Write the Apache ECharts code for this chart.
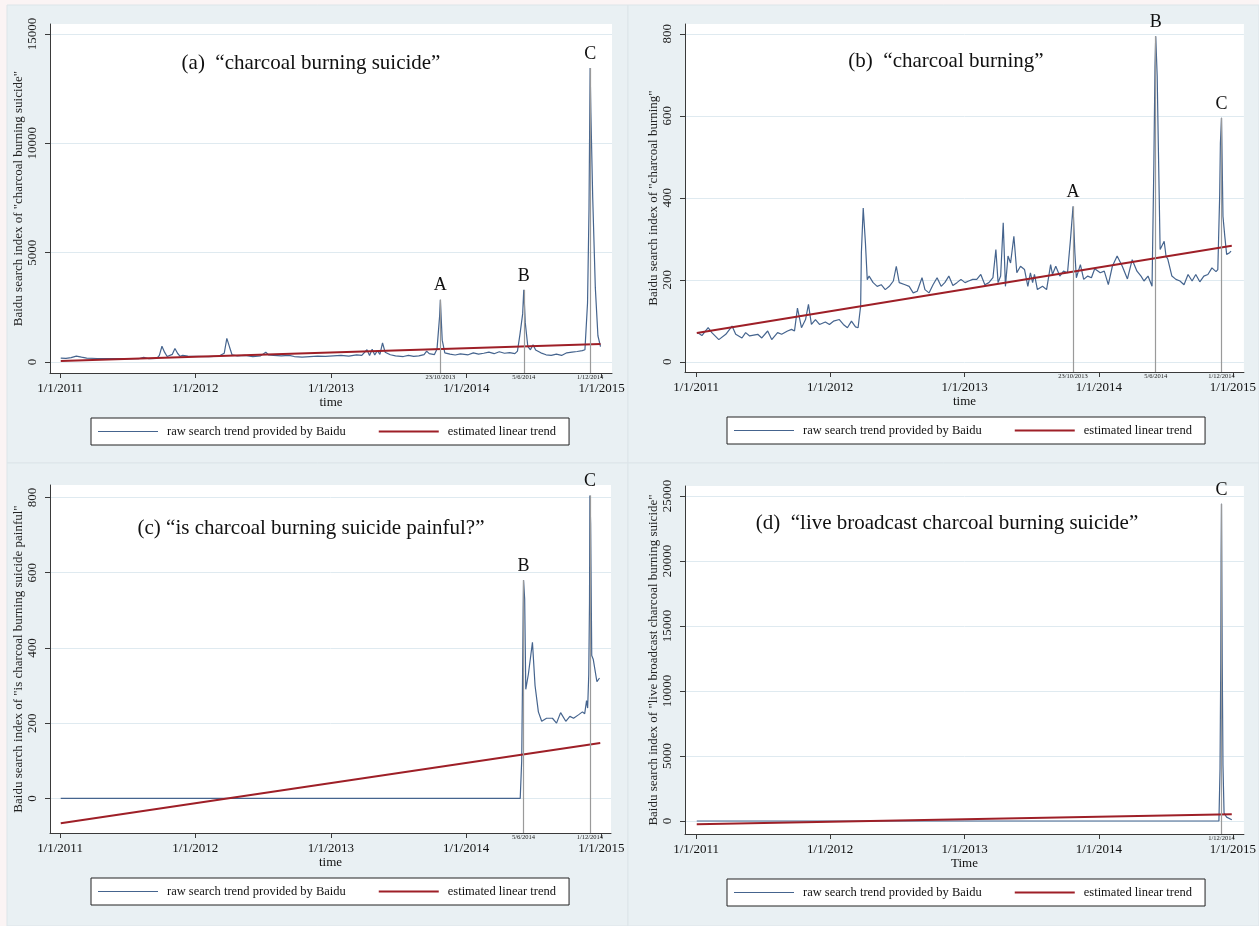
<!DOCTYPE html>
<html><head><meta charset="utf-8">
<script src="https://cdn.jsdelivr.net/npm/echarts@6/dist/echarts.min.js"></script>
<style>html,body{margin:0;padding:0;background:#fbf4f4;} #c{width:1259px;height:926px;}</style>
</head><body><div id="c"></div>
<script>
const FONT = '"Liberation Serif", "Times New Roman", serif';

// ---------- data ----------
const yearTicks = ['2011-01-01','2012-01-01','2013-01-01','2014-01-01','2015-01-01'];
const eventDates = ['2013-10-23','2014-06-05','2014-12-01'];
const eventLabels = ['23/10/2013','5/6/2014','1/12/2014'];
const eventLetters = ['A','B','C'];
const seriesNames = ['raw search trend provided by Baidu','estimated linear trend'];
const titles = ['(a)  \u201Ccharcoal burning suicide\u201D','(b)  \u201Ccharcoal burning\u201D',
  '(c) \u201Cis charcoal burning suicide painful?\u201D','(d)  \u201Clive broadcast charcoal burning suicide\u201D'];
const yNames = ['Baidu search index of "charcoal burning suicide"','Baidu search index of "charcoal burning"',
  'Baidu search index of "is charcoal burning suicide painful"','Baidu search index of "live broadcast charcoal burning suicide"'];
const xNames = ['time','time','time','Time'];

const yTicksA = [0,5000,10000,15000];
const yTicksB = [0,200,400,600,800];
const yTicksC = [0,200,400,600,800];
const yTicksD = [0,5000,10000,15000,20000,25000];

const eventsA = [0,1,2];
const eventsB = [0,1,2];
const eventsC = [1,2];
const eventsD = [2];

const rawA = [
['2011-01-03',180],['2011-01-17',170],['2011-01-31',200],['2011-02-14',270],['2011-02-28',220],['2011-03-14',180],
['2011-04-11',160],['2011-05-09',150],['2011-06-06',150],['2011-07-04',160],['2011-08-01',150],['2011-08-15',210],
['2011-08-29',150],['2011-09-19',170],['2011-09-26',300],['2011-10-03',720],['2011-10-10',450],['2011-10-17',250],
['2011-10-31',350],['2011-11-07',620],['2011-11-14',400],['2011-11-21',260],['2011-11-28',300],['2011-12-12',270],
['2012-01-09',260],['2012-02-06',250],['2012-03-05',270],['2012-03-19',400],['2012-03-26',1080],['2012-04-02',700],
['2012-04-09',330],['2012-04-23',280],['2012-05-14',300],['2012-06-04',250],['2012-06-25',280],['2012-07-09',450],
['2012-07-16',330],['2012-07-30',300],['2012-08-20',280],['2012-09-10',300],['2012-09-24',250],['2012-10-15',220],
['2012-11-05',250],['2012-11-26',270],['2012-12-17',260],['2013-01-07',280],['2013-01-28',300],['2013-02-18',270],
['2013-03-11',330],['2013-03-25',300],['2013-04-08',560],['2013-04-15',300],['2013-04-22',580],['2013-04-29',320],
['2013-05-06',520],['2013-05-13',350],['2013-05-20',870],['2013-05-27',450],['2013-06-10',330],['2013-06-24',280],
['2013-07-15',250],['2013-07-29',300],['2013-08-12',260],['2013-08-26',280],['2013-09-09',340],['2013-09-16',500],
['2013-09-23',380],['2013-10-07',340],['2013-10-14',600],['2013-10-21',2100],['2013-10-23',2850],['2013-10-28',1000],
['2013-11-04',420],['2013-11-18',360],['2013-12-02',320],['2013-12-16',370],['2014-01-06',330],['2014-01-20',420],
['2014-02-03',360],['2014-02-17',400],['2014-03-03',450],['2014-03-17',380],['2014-03-31',470],['2014-04-14',400],
['2014-04-28',430],['2014-05-12',380],['2014-05-19',500],['2014-05-26',1300],['2014-06-02',2200],['2014-06-05',3300],
['2014-06-09',1800],['2014-06-16',700],['2014-06-23',560],['2014-06-30',790],['2014-07-07',550],['2014-07-21',420],
['2014-08-04',330],['2014-08-18',300],['2014-09-01',360],['2014-09-15',300],['2014-09-29',420],['2014-10-13',450],
['2014-10-27',480],['2014-11-10',520],['2014-11-17',560],['2014-11-24',2700],['2014-11-28',7000],['2014-12-01',13450],
['2014-12-03',11400],['2014-12-08',7500],['2014-12-15',3400],['2014-12-22',1200],['2014-12-29',700]
];
const rawB = [
['2011-01-06',71],['2011-01-17',64],['2011-02-03',83],['2011-02-13',71],['2011-03-04',54],['2011-03-23',67],
['2011-04-09',87],['2011-04-19',67],['2011-05-06',58],['2011-05-16',71],['2011-05-27',63],['2011-06-18',67],
['2011-06-29',58],['2011-07-15',75],['2011-07-26',54],['2011-08-11',71],['2011-08-22',67],['2011-09-07',75],
['2011-09-18',79],['2011-09-26',75],['2011-10-04',131],['2011-10-15',83],['2011-10-26',103],['2011-11-03',140],
['2011-11-11',91],['2011-11-22',103],['2011-12-03',91],['2011-12-19',97],['2011-12-30',91],['2012-01-10',99],
['2012-01-26',103],['2012-02-06',91],['2012-02-17',83],['2012-02-28',99],['2012-03-10',85],['2012-03-17',83],
['2012-03-24',136],['2012-03-26',266],['2012-03-31',375],['2012-04-06',290],['2012-04-11',200],['2012-04-16',209],
['2012-04-27',193],['2012-05-08',184],['2012-05-19',188],['2012-05-30',176],['2012-06-10',184],['2012-06-21',197],
['2012-06-29',233],['2012-07-07',193],['2012-07-23',188],['2012-08-03',184],['2012-08-14',168],['2012-08-25',172],
['2012-09-07',205],['2012-09-15',176],['2012-09-26',168],['2012-10-07',188],['2012-10-18',205],['2012-10-29',184],
['2012-11-08',193],['2012-11-19',209],['2012-11-30',186],['2012-12-11',193],['2012-12-22',201],['2013-01-02',193],
['2013-01-12',197],['2013-01-23',201],['2013-02-03',201],['2013-02-14',213],['2013-02-25',188],['2013-03-08',193],
['2013-03-19',205],['2013-03-27',274],['2013-04-02',193],['2013-04-09',209],['2013-04-16',339],['2013-04-22',184],
['2013-04-29',258],['2013-05-06',241],['2013-05-15',306],['2013-05-23',217],['2013-06-02',233],['2013-06-13',225],
['2013-06-22',184],['2013-06-29',217],['2013-07-05',193],['2013-07-10',213],['2013-07-18',176],['2013-08-01',184],
['2013-08-12',176],['2013-08-23',237],['2013-08-28',213],['2013-09-06',233],['2013-09-17',209],['2013-09-27',221],
['2013-10-08',217],['2013-10-16',298],['2013-10-23',379],['2013-10-28',266],['2013-11-01',205],['2013-11-12',237],
['2013-11-21',201],['2013-12-02',209],['2013-12-12',205],['2013-12-21',227],['2014-01-05',217],['2014-01-16',221],
['2014-01-27',188],['2014-02-07',233],['2014-02-20',258],['2014-03-06',233],['2014-03-20',202],['2014-04-02',249],
['2014-04-15',221],['2014-04-26',209],['2014-05-04',197],['2014-05-15',209],['2014-05-26',184],['2014-05-31',485],
['2014-06-03',720],['2014-06-05',794],['2014-06-09',696],['2014-06-12',533],['2014-06-17',274],['2014-06-22',278],
['2014-06-28',294],['2014-07-03',258],['2014-07-08',250],['2014-07-19',209],['2014-07-30',201],['2014-08-10',197],
['2014-08-21',188],['2014-09-01',213],['2014-09-12',197],['2014-09-22',213],['2014-10-03',195],['2014-10-14',209],
['2014-10-25',213],['2014-11-05',229],['2014-11-16',220],['2014-11-21',225],['2014-11-26',404],['2014-11-28',533],
['2014-12-01',595],['2014-12-05',355],['2014-12-10',306],['2014-12-15',262],['2014-12-23',266],['2014-12-27',270]
];
const rawC = [
['2011-01-03',0],['2014-05-27',0],['2014-05-31',100],['2014-06-02',290],['2014-06-04',500],['2014-06-05',580],
['2014-06-08',530],['2014-06-11',290],['2014-06-18',330],['2014-06-29',415],['2014-07-06',300],['2014-07-15',230],
['2014-07-24',205],['2014-08-06',213],['2014-08-22',213],['2014-09-02',200],['2014-09-13',228],['2014-09-27',205],
['2014-10-08',218],['2014-10-18',213],['2014-10-31',222],['2014-11-11',230],['2014-11-17',225],['2014-11-22',260],
['2014-11-25',240],['2014-11-28',330],['2014-11-30',520],['2014-12-01',805],['2014-12-03',730],['2014-12-06',380],
['2014-12-10',370],['2014-12-20',310],['2014-12-27',320]
];
const rawD = [
['2011-01-03',0],['2014-11-24',0],['2014-11-27',4000],['2014-11-29',12200],['2014-11-30',20300],['2014-12-01',24400],
['2014-12-03',12300],['2014-12-05',4300],['2014-12-08',600],['2014-12-15',300],['2014-12-29',100]
];
const trendA = [['2011-01-03',50],['2014-12-29',820]];
const trendB = [['2011-01-03',70],['2014-12-29',283]];
const trendC = [['2011-01-03',-66],['2014-12-29',147]];
const trendD = [['2011-01-03',-254],['2014-12-29',515]];

// ---------- layout ----------
const panels = [
  {raw: rawA, trend: trendA, yTicks: yTicksA, events: eventsA,
   grid: {left: 50, top: 24, width: 562, height: 349}, yMin: -503, yMax: 15457, xMin: '2010-12-05', xMax: '2015-01-29',
   legend: {left: 91, top: 418}, title: [311, 63], bg: [7, 5, 621, 458]},
  {raw: rawB, trend: trendB, yTicks: yTicksB, events: eventsB,
   grid: {left: 685, top: 24, width: 563, height: 348}, yMin: -25, yMax: 824, xMin: '2010-12-02', xMax: '2015-01-31',
   legend: {left: 727, top: 417}, title: [946, 61], bg: [628, 5, 631, 458]},
  {raw: rawC, trend: trendC, yTicks: yTicksC, events: eventsC,
   grid: {left: 50, top: 485, width: 561, height: 348}, yMin: -92, yMax: 833, xMin: '2010-12-05', xMax: '2015-01-27',
   legend: {left: 91, top: 878}, title: [311, 528], bg: [7, 463, 621, 463]},
  {raw: rawD, trend: trendD, yTicks: yTicksD, events: eventsD,
   grid: {left: 685, top: 486, width: 563, height: 348}, yMin: -1000, yMax: 25770, xMin: '2010-12-02', xMax: '2015-01-31',
   legend: {left: 727, top: 879}, title: [947, 523], bg: [628, 463, 631, 463]}
];

function ts(s) { const p = s.split('-').map(Number); return new Date(p[0], p[1] - 1, p[2]).getTime(); }
const yearTs = yearTicks.map(ts);
const eventTs = eventDates.map(ts);

const AXIS_COLOR = '#3a3a3a';
const BLUE = '#45648e';
const RED = '#9e1f27';

const option = {
  animation: false,
  backgroundColor: '#fbf4f4',
  grid: [], xAxis: [], yAxis: [], series: [], legend: [], graphic: []
};

panels.forEach((p, i) => {
  option.grid.push(Object.assign({show: true, backgroundColor: '#ffffff', borderWidth: 0, containLabel: false}, p.grid));
  const xmin = ts(p.xMin), xmax = ts(p.xMax);
  option.xAxis.push({
    type: 'value', gridIndex: i, min: xmin, max: xmax, position: 'bottom', scale: true,
    axisLine: {show: true, onZero: false, lineStyle: {color: AXIS_COLOR, width: 1}},
    axisTick: {show: true, length: 5, customValues: yearTs, lineStyle: {color: AXIS_COLOR}},
    axisLabel: {customValues: yearTs, formatter: v => '1/1/' + new Date(v).getFullYear(), margin: 9,
      fontFamily: FONT, fontSize: 13, color: '#111', hideOverlap: false},
    splitLine: {show: false},
    name: xNames[i], nameLocation: 'middle', nameGap: 23,
    nameTextStyle: {fontFamily: FONT, fontSize: 13, color: '#111'}
  });
  const evTs = p.events.map(k => eventTs[k]);
  option.xAxis.push({
    type: 'value', gridIndex: i, min: xmin, max: xmax, position: 'bottom', scale: true,
    axisLine: {show: false, onZero: false}, axisTick: {show: false}, splitLine: {show: false},
    axisLabel: {customValues: evTs, formatter: v => eventLabels[eventTs.indexOf(v)], margin: 1,
      fontFamily: FONT, fontSize: 6.5, color: '#222', hideOverlap: false}
  });
  option.yAxis.push({
    type: 'value', gridIndex: i, min: p.yMin, max: p.yMax,
    axisLine: {show: true, onZero: false, lineStyle: {color: AXIS_COLOR, width: 1}},
    axisTick: {show: true, length: 5, customValues: p.yTicks, lineStyle: {color: AXIS_COLOR}},
    axisLabel: {customValues: p.yTicks, formatter: v => String(v), rotate: 90, margin: 11,
      fontFamily: FONT, fontSize: 13, color: '#222'},
    splitLine: {show: true, lineStyle: {color: '#dfeaf0', width: 1}},
    name: yNames[i], nameLocation: 'middle', nameGap: 25,
    nameTextStyle: {fontFamily: FONT, fontSize: 13, color: '#222'}
  });
  const rawData = p.raw.map(d => [ts(d[0]), d[1]]);
  const mlData = p.events.map(k => {
    const t = eventTs[k];
    let peak = -Infinity;
    rawData.forEach(d => { if (Math.abs(d[0] - t) <= 5 * 86400000 && d[1] > peak) peak = d[1]; });
    return [{coord: [t, p.yMin]}, {coord: [t, peak], label: {formatter: eventLetters[k]}}];
  });
  option.series.push({
    type: 'line', name: seriesNames[0], xAxisIndex: 2 * i, yAxisIndex: i, data: rawData,
    symbol: 'none', showSymbol: false, lineStyle: {color: BLUE, width: 1.2}, itemStyle: {color: BLUE}, z: 2,
    markLine: {silent: true, symbol: ['none', 'none'], animation: false,
      lineStyle: {color: '#9a9a9a', width: 1.2, type: 'solid'},
      label: {show: true, position: 'end', distance: 5, fontFamily: FONT, fontSize: 18, color: '#111'},
      emphasis: {disabled: true},
      data: mlData}
  });
  option.series.push({
    type: 'line', name: seriesNames[1], xAxisIndex: 2 * i, yAxisIndex: i, data: p.trend.map(d => [ts(d[0]), d[1]]),
    symbol: 'none', showSymbol: false, lineStyle: {color: RED, width: 2}, itemStyle: {color: RED}, z: 3
  });
  option.legend.push({
    left: p.legend.left, top: p.legend.top, selectedMode: false,
    data: [
      {name: seriesNames[0], icon: 'path://M0,0H60V1H0Z', itemStyle: {color: BLUE, borderWidth: 0}},
      {name: seriesNames[1], icon: 'path://M0,0H30V1H0Z', itemStyle: {color: RED, borderWidth: 0}}
    ],
    itemWidth: 60, itemHeight: 12, itemGap: 33, padding: [7, 13, 7, 7],
    borderColor: '#222', borderWidth: 1, backgroundColor: '#ffffff',
    textStyle: {fontFamily: FONT, fontSize: 12.5, color: '#111', padding: [0, 0, 0, 4]}
  });
  option.graphic.push({type: 'rect', z: -10, silent: true,
    shape: {x: p.bg[0], y: p.bg[1], width: p.bg[2], height: p.bg[3]},
    style: {fill: '#e9f0f3', stroke: '#dce5e9', lineWidth: 1}});
  option.graphic.push({type: 'text', z: 100, silent: true, x: p.title[0], y: p.title[1],
    style: {text: titles[i], font: '21px ' + FONT, fill: '#111', textAlign: 'center', textVerticalAlign: 'middle'}});
});

const chart = echarts.init(document.getElementById('c'), null, {renderer: 'canvas'});
chart.setOption(option);
</script>
</body></html>
